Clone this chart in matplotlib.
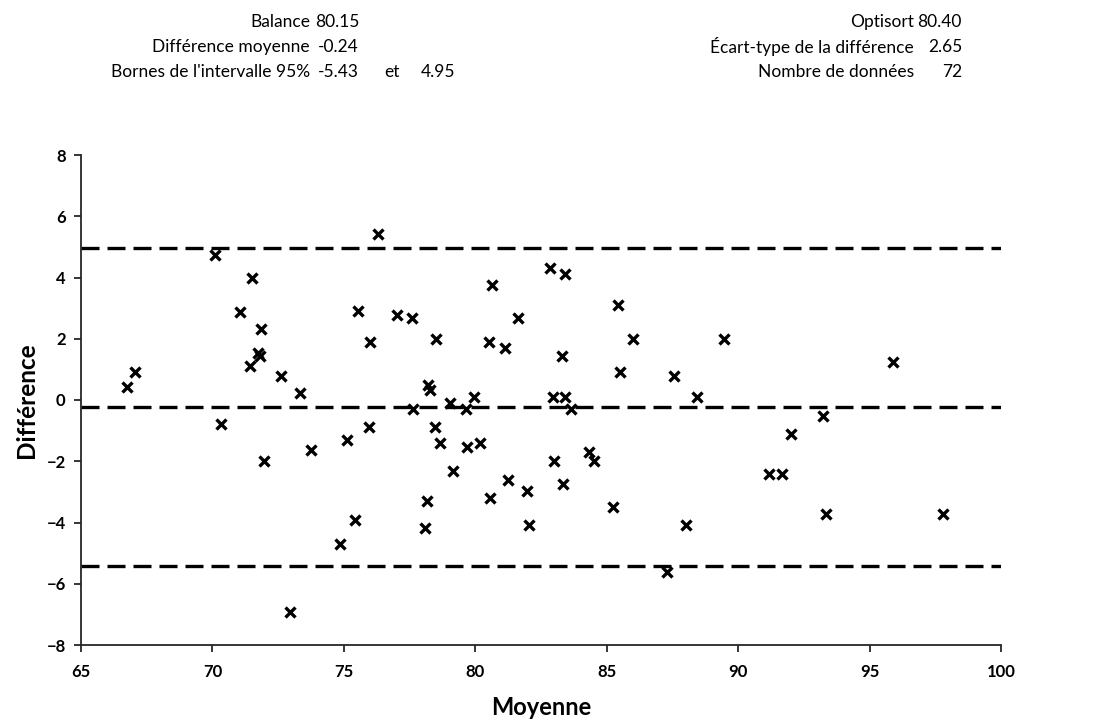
import numpy as np
import matplotlib.pyplot as plt

plt.rcParams['font.family'] = ['Lato', 'DejaVu Sans']

# moyenne des deux methodes et difference, une paire par echantillon
moyenne = [
    70.11, 71.51, 71.03, 71.86, 71.72, 71.81, 71.43, 72.60, 73.35, 66.76,
    67.05, 70.34, 71.95, 73.75, 75.13, 74.85, 72.95, 75.42, 75.54, 76.30,
    76.00, 77.04, 77.61, 78.50, 80.51, 80.63, 81.14, 81.61, 82.83, 83.40,
    83.29, 85.42, 85.52, 78.21, 78.29, 77.62, 79.02, 79.63, 79.94, 82.94,
    83.40, 83.64, 75.94, 78.45, 78.67, 79.70, 80.17, 79.14, 78.15, 78.09,
    80.56, 81.25, 81.96, 82.03, 83.00, 83.35, 84.34, 84.52, 85.25, 86.01,
    89.45, 87.55, 88.42, 95.88, 93.21, 92.00, 91.18, 91.65, 93.33, 88.02,
    87.28, 97.80,
]
difference = [
    4.73, 4.00, 2.88, 2.32, 1.54, 1.45, 1.12, 0.79, 0.22, 0.44,
    0.91, -0.78, -1.99, -1.62, -1.30, -4.70, -6.92, -3.91, 2.90, 5.43,
    1.89, 2.79, 2.69, 2.00, 1.89, 3.74, 1.69, 2.69, 4.31, 4.11,
    1.43, 3.10, 0.90, 0.48, 0.33, -0.31, -0.09, -0.31, 0.11, 0.11,
    0.11, -0.31, -0.89, -0.89, -1.41, -1.52, -1.41, -2.31, -3.30, -4.19,
    -3.19, -2.62, -2.98, -4.08, -1.99, -2.73, -1.70, -1.99, -3.49, 2.00,
    2.00, 0.79, 0.11, 1.23, -0.51, -1.10, -2.42, -2.42, -3.71, -4.08,
    -5.60, -3.71,
]

moy_balance = 80.15
moy_optisort = 80.40
diff_moyenne = -0.24
ecart_type = 2.65
borne_basse = -5.43
borne_haute = 4.95
n_donnees = 72

W, H = 1096, 725
fig = plt.figure(figsize=(W / 100, H / 100), dpi=100)
ax = fig.add_axes([81 / W, 1 - 645 / H, 920 / W, 490 / H])

for y in [borne_haute, diff_moyenne, borne_basse]:
    ax.axhline(y, color='black', lw=2.4, dashes=(5.4, 2.4), zorder=1)

ax.plot(moyenne, difference, 'x', color='black', markersize=7.5, mew=2.4,
        zorder=3)

ax.set_xlim(65, 100)
ax.set_ylim(-8, 8)
ax.set_xticks(np.arange(65, 101, 5))
ax.set_yticks(np.arange(-8, 9, 2))
for s in ['top', 'right']:
    ax.spines[s].set_visible(False)
for s in ['left', 'bottom']:
    ax.spines[s].set_color('#262626')
    ax.spines[s].set_linewidth(1.3)
ax.tick_params(direction='out', length=5, width=1.3, color='#262626',
               labelsize=12)
ax.tick_params(axis='x', pad=9)
ax.tick_params(axis='y', pad=6)
for lab in ax.get_xticklabels() + ax.get_yticklabels():
    lab.set_fontweight('bold')
ax.set_xlabel('Moyenne', fontsize=17, fontweight='bold', labelpad=11)
ax.set_ylabel('Différence', fontsize=17.5, fontweight='bold', labelpad=6)

# tableau de synthese au-dessus du graphique
fs = 12.5
rows_y = [1 - 22 / H, 1 - 47 / H, 1 - 72 / H]
gauche = [('Balance', f'{moy_balance:.2f}'),
          ('Différence moyenne', f'{diff_moyenne:.2f}'),
          ("Bornes de l'intervalle 95%", f'{borne_basse:.2f}')]
droite = [('Optisort', f'{moy_optisort:.2f}'),
          ('Écart-type de la différence', f'{ecart_type:.2f}'),
          ('Nombre de données', f'{n_donnees}')]
for (lab, val), y in zip(gauche, rows_y):
    fig.text(310 / W, y, lab, ha='right', va='center', fontsize=fs)
    fig.text(359 / W, y, val, ha='right', va='center', fontsize=fs)
fig.text(392 / W, rows_y[2], 'et', ha='center', va='center', fontsize=fs)
fig.text(455 / W, rows_y[2], f'{borne_haute:.2f}', ha='right',
         va='center', fontsize=fs)
for (lab, val), y in zip(droite, rows_y):
    fig.text(914 / W, y, lab, ha='right', va='center', fontsize=fs)
    fig.text(962 / W, y, val, ha='right', va='center', fontsize=fs)

fig.savefig('out.png', dpi=100)
